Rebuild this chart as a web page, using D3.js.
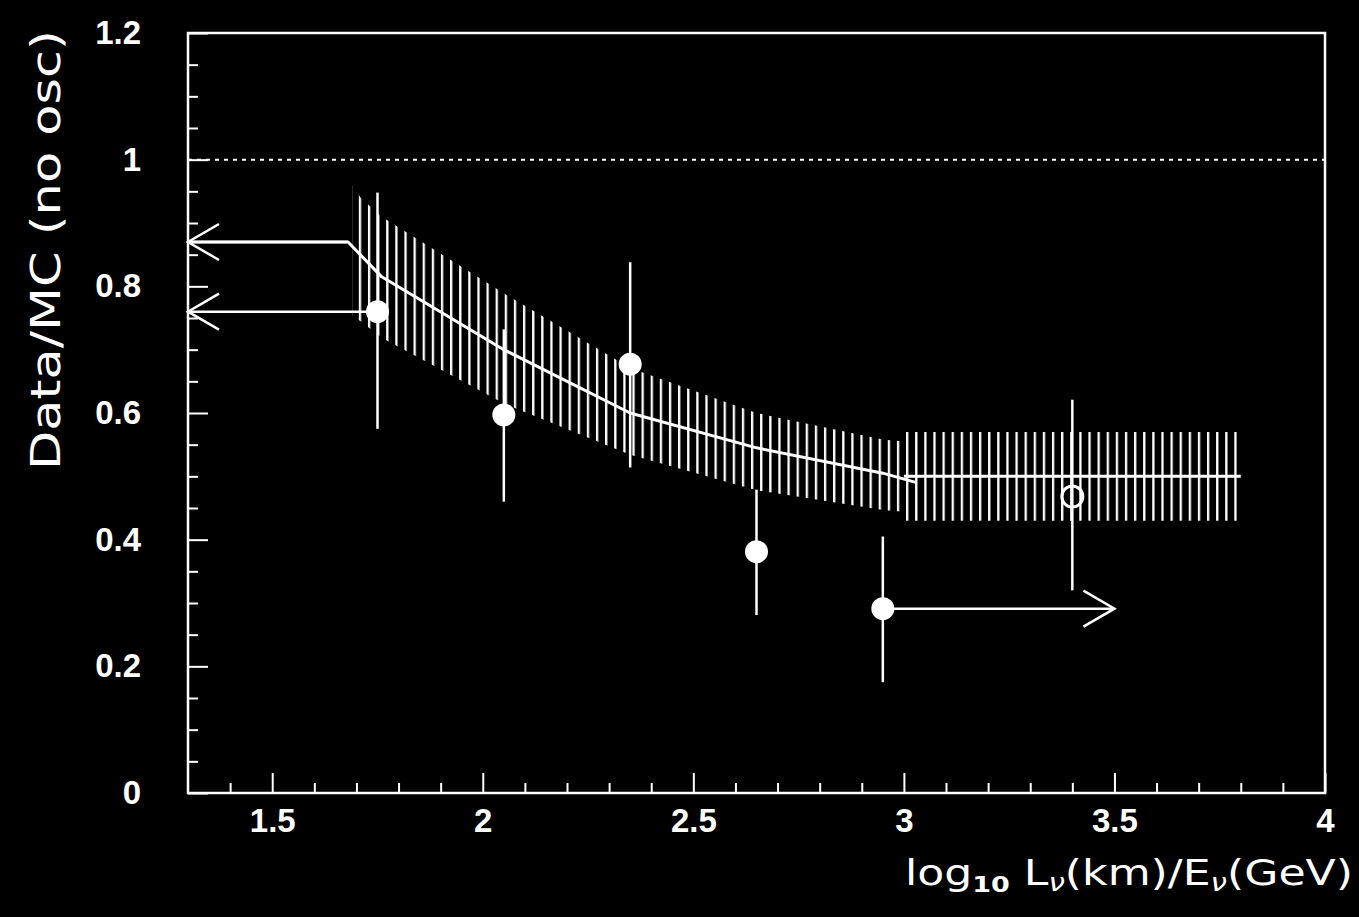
<!DOCTYPE html>
<html>
<head>
<meta charset="utf-8">
<script src="https://cdn.jsdelivr.net/npm/d3@7"></script>
<style>
  html, body { margin: 0; padding: 0; background: #000; }
  svg { display: block; }
</style>
</head>
<body>
<svg id="chart" width="1359" height="917"></svg>
<script>
// ---------------- data ----------------
const xTickValues = [1.5, 2, 2.5, 3, 3.5, 4];
const xTickLabels = ["1.5", "2", "2.5", "3", "3.5", "4"];
const yTickValues = [0, 0.2, 0.4, 0.6, 0.8, 1, 1.2];
const yTickLabels = ["0", "0.2", "0.4", "0.6", "0.8", "1", "1.2"];

// filled data points
const pointX  = [1.75, 2.05, 2.35, 2.65, 2.95];
const pointY  = [0.76, 0.597, 0.677, 0.381, 0.291];
const pointLo = [0.575, 0.46, 0.514, 0.281, 0.175];
const pointHi = [0.948, 0.732, 0.838, 0.479, 0.405];

// open data point
const openX  = [3.4];
const openY  = [0.468];
const openLo = [0.32];
const openHi = [0.621];

// MC expectation curve
const curveX = [1.3, 1.68, 1.76, 2.05, 2.35, 2.65, 2.95, 3.03];
const curveY = [0.87, 0.87, 0.815, 0.70, 0.60, 0.545, 0.505, 0.49];
const flatX  = [3.0, 3.8];
const flatY  = [0.5, 0.5];

// hatched uncertainty bands
const band1X  = [1.69, 1.71, 1.76, 2.05, 2.35, 2.65, 2.95, 3.0];
const band1Hi = [0.96, 0.94, 0.91, 0.789, 0.671, 0.60, 0.558, 0.555];
const band1Lo = [0.753, 0.745, 0.719, 0.615, 0.534, 0.478, 0.447, 0.444];
const band2X  = [3.0, 3.8];
const band2Hi = [0.57, 0.57];
const band2Lo = [0.43, 0.43];

// arrows: [fromX, toX, y]
const arrowFrom = [1.68, 1.75, 2.95];
const arrowTo   = [1.3, 1.3, 3.5];
const arrowY    = [0.87, 0.76, 0.291];

const refLineY = [1];

// ---------------- drawing ----------------
const svg = d3.select("#chart");
const W = 1359, H = 917;
const L = 188, R = 1325, T = 33, B = 793;
const x = d3.scaleLinear().domain([1.3, 4]).range([L, R]);
const y = d3.scaleLinear().domain([0, 1.2]).range([B, T]);
const white = "#ffffff";

svg.append("rect").attr("width", W).attr("height", H).attr("fill", "#000");

// hatch pattern (vertical lines)
const defs = svg.append("defs");
const hatch = defs.append("pattern")
  .attr("id", "hatch")
  .attr("patternUnits", "userSpaceOnUse")
  .attr("x", 906).attr("y", 0)
  .attr("width", 9.12).attr("height", 20);
hatch.append("rect").attr("x", 0).attr("y", 0).attr("width", 2.3).attr("height", 20).attr("fill", white);

const area = d3.area().x(d => x(d[0])).y0(d => y(d[1])).y1(d => y(d[2]));
svg.append("path")
  .datum(band1X.map((v, i) => [v, band1Lo[i], band1Hi[i]]))
  .attr("d", area).attr("fill", "url(#hatch)");
svg.append("path")
  .datum(band2X.map((v, i) => [v, band2Lo[i], band2Hi[i]]))
  .attr("d", area).attr("fill", "url(#hatch)");

// dotted reference line
svg.selectAll(".ref").data(refLineY).enter().append("line")
  .attr("x1", x(1.3)).attr("x2", x(4))
  .attr("y1", d => y(d)).attr("y2", d => y(d))
  .attr("stroke", white).attr("stroke-width", 2).attr("stroke-dasharray", "4,5");

// MC curve
const line = d3.line().x(d => x(d[0])).y(d => y(d[1]));
svg.append("path")
  .datum(curveX.map((v, i) => [v, curveY[i]]))
  .attr("d", line).attr("fill", "none").attr("stroke", white)
  .attr("stroke-width", 3).attr("stroke-linejoin", "round");
svg.append("path")
  .datum(flatX.map((v, i) => [v, flatY[i]]))
  .attr("d", line).attr("fill", "none").attr("stroke", white).attr("stroke-width", 3);

// arrows
arrowFrom.forEach((fx, i) => {
  const x0 = x(fx), x1 = x(arrowTo[i]), yy = y(arrowY[i]);
  const dir = x1 > x0 ? -1 : 1;
  svg.append("line").attr("x1", x0).attr("x2", x1).attr("y1", yy).attr("y2", yy)
    .attr("stroke", white).attr("stroke-width", 2.5);
  svg.append("path")
    .attr("d", `M${x1 + dir * 31},${yy - 18}L${x1},${yy}L${x1 + dir * 31},${yy + 18}`)
    .attr("fill", "none").attr("stroke", white).attr("stroke-width", 2.5);
});

// error bars + points
pointX.forEach((px, i) => {
  svg.append("line").attr("x1", x(px)).attr("x2", x(px))
    .attr("y1", y(pointLo[i])).attr("y2", y(pointHi[i]))
    .attr("stroke", white).attr("stroke-width", 2.5);
  svg.append("circle").attr("cx", x(px)).attr("cy", y(pointY[i])).attr("r", 11.5).attr("fill", white);
});
openX.forEach((px, i) => {
  svg.append("line").attr("x1", x(px)).attr("x2", x(px))
    .attr("y1", y(openLo[i])).attr("y2", y(openHi[i]))
    .attr("stroke", white).attr("stroke-width", 2.5);
  svg.append("circle").attr("cx", x(px)).attr("cy", y(openY[i])).attr("r", 10.5)
    .attr("fill", "none").attr("stroke", white).attr("stroke-width", 3);
});

// axes
const xMinor = d3.range(14, 40, 1).map(v => v / 10).filter(v => !xTickValues.includes(v));
const yMinor = d3.range(1, 24, 1).map(v => v / 20).filter(v => !yTickValues.some(t => Math.abs(t - v) < 1e-9));

const gx = svg.append("g").attr("transform", `translate(0,${B})`)
  .call(d3.axisBottom(x).tickValues(xTickValues).tickFormat((d, i) => xTickLabels[i])
    .tickSizeInner(-20).tickSizeOuter(0).tickPadding(16));
const gxm = svg.append("g").attr("transform", `translate(0,${B})`)
  .call(d3.axisBottom(x).tickValues(xMinor).tickFormat("").tickSizeInner(-10).tickSizeOuter(0));
const gy = svg.append("g").attr("transform", `translate(${L},0)`)
  .call(d3.axisLeft(y).tickValues(yTickValues).tickFormat((d, i) => yTickLabels[i])
    .tickSizeInner(-20).tickSizeOuter(0).tickPadding(47));
const gym = svg.append("g").attr("transform", `translate(${L},0)`)
  .call(d3.axisLeft(y).tickValues(yMinor).tickFormat("").tickSizeInner(-10).tickSizeOuter(0));

[gx, gxm, gy, gym].forEach(g => {
  g.attr("font-size", null).attr("font-family", null);
  g.select(".domain").remove();
  g.selectAll(".tick line").attr("stroke", white).attr("stroke-width", 2);
  g.selectAll(".tick text").attr("fill", white)
    .attr("font-family", "'Liberation Sans', Arial, Helvetica, sans-serif")
    .attr("font-weight", "bold").attr("font-size", "33px");
});

// frame
svg.append("rect").attr("x", L).attr("y", T).attr("width", R - L).attr("height", B - T)
  .attr("fill", "none").attr("stroke", white).attr("stroke-width", 2.5);

// axis titles
const titleFont = "'DejaVu Sans', 'Noto Sans', sans-serif";
svg.append("text")
  .attr("transform", `translate(60,250) rotate(-90)`)
  .attr("text-anchor", "middle")
  .attr("fill", white)
  .attr("textLength", 440).attr("lengthAdjust", "spacingAndGlyphs")
  .style("font-family", titleFont).style("font-size", "41px")
  .text("Data/MC (no osc)");

const xt = svg.append("text")
  .attr("x", 1353).attr("y", 885)
  .attr("text-anchor", "end")
  .attr("fill", white)
  .attr("textLength", 448).attr("lengthAdjust", "spacingAndGlyphs")
  .style("font-family", titleFont).style("font-size", "36px");
xt.append("tspan").text("log");
xt.append("tspan").attr("dy", 7).style("font-size", "22px").style("font-weight", "bold").text("10");
xt.append("tspan").attr("dy", -7).text(" L");
xt.append("tspan").attr("dy", 6).style("font-size", "24px").style("font-style", "italic").text("ν");
xt.append("tspan").attr("dy", -6).text("(km)/E");
xt.append("tspan").attr("dy", 6).style("font-size", "24px").style("font-style", "italic").text("ν");
xt.append("tspan").attr("dy", -6).text("(GeV)");
</script>
</body>
</html>
